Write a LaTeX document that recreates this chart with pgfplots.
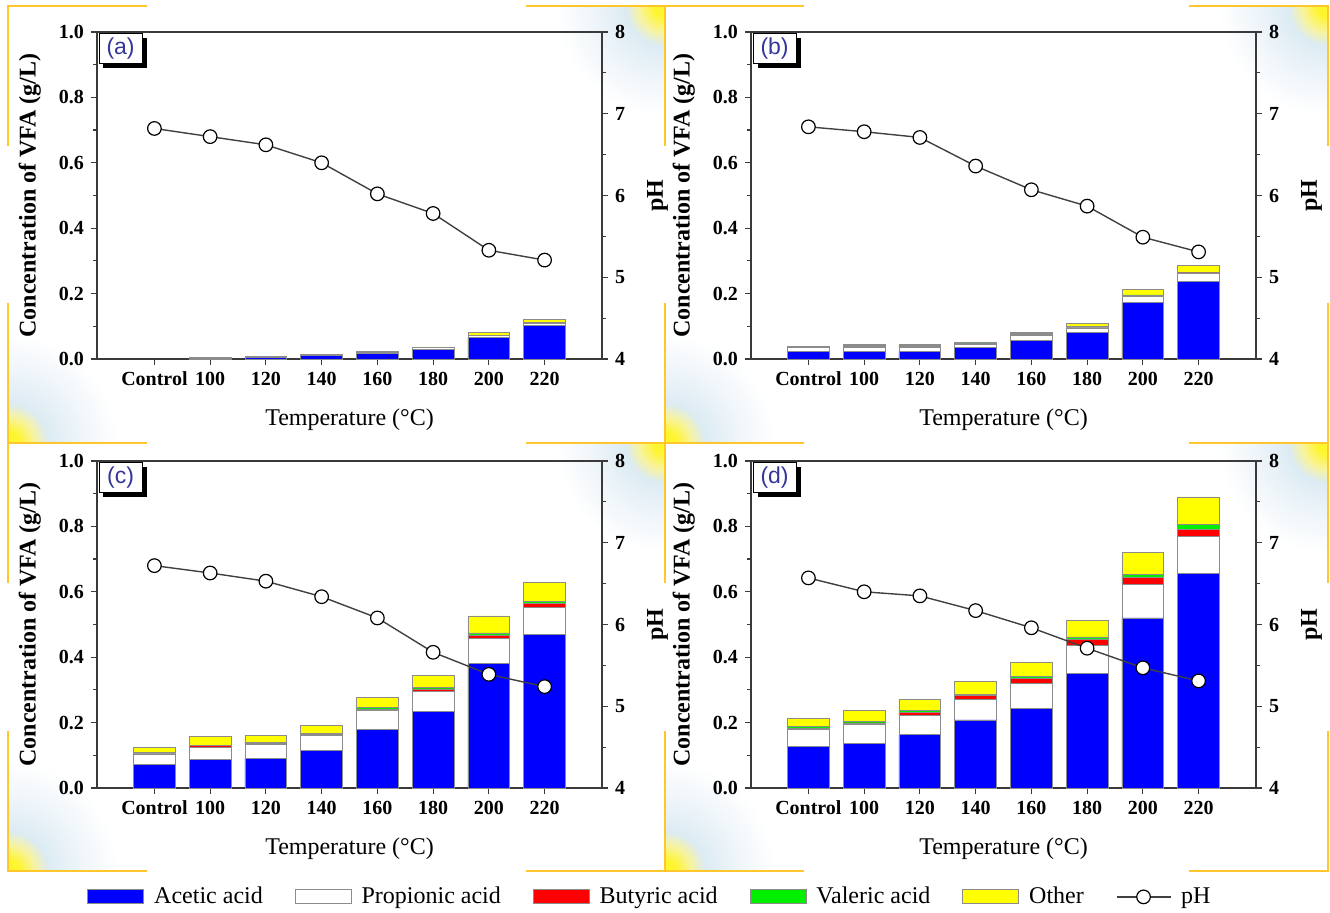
\documentclass[border=0pt]{standalone}
\usepackage{pgfplots}
\pgfplotsset{compat=1.18}
\usepackage{pgfplotstable}
\usepackage{fontspec}
\setmainfont{Liberation Serif}
\newfontfamily\labfont{Liberation Sans}
\usetikzlibrary{shadows}
\definecolor{gyel}{HTML}{FFF52E}
\definecolor{gyel2}{HTML}{F7F3A0}
\definecolor{gblue}{HTML}{DCEBF3}
\definecolor{gblue2}{HTML}{F0F6FA}
\definecolor{framey}{HTML}{FFC72C}
\definecolor{labblue}{HTML}{36369A}
\definecolor{axgray}{HTML}{3A3A3A}
\definecolor{bargray}{HTML}{8C8C8C}
\definecolor{vblue}{HTML}{0000FF}
\definecolor{vred}{HTML}{FF0000}
\definecolor{vgreen}{HTML}{00F000}
\definecolor{vyel}{HTML}{FFFF00}
\definecolor{phgray}{HTML}{404040}
\pgfdeclareradialshading{glow}{\pgfpoint{0bp}{0bp}}{color(0bp)=(gyel); color(2.5bp)=(gyel); color(6bp)=(gyel2); color(9bp)=(gblue); color(17bp)=(gblue2); color(25bp)=(white); color(50bp)=(white)}

\pgfplotstableread{
x ac pr bu va ot ph
0 0.000 0.000 0.000 0.000 0.000 6.82
1 0.003 0.001 0.000 0.000 0.000 6.72
2 0.006 0.001 0.000 0.000 0.000 6.62
3 0.010 0.002 0.000 0.000 0.001 6.40
4 0.018 0.003 0.000 0.000 0.002 6.02
5 0.030 0.004 0.000 0.000 0.002 5.78
6 0.066 0.006 0.001 0.000 0.007 5.33
7 0.102 0.006 0.002 0.001 0.010 5.21
}\tA
\pgfplotstableread{
x ac pr bu va ot ph
0 0.023 0.013 0.000 0.000 0.001 6.84
1 0.023 0.013 0.003 0.003 0.003 6.78
2 0.023 0.013 0.003 0.003 0.003 6.71
3 0.034 0.011 0.002 0.002 0.002 6.36
4 0.056 0.016 0.003 0.003 0.003 6.07
5 0.080 0.015 0.002 0.002 0.010 5.87
6 0.172 0.020 0.002 0.002 0.018 5.49
7 0.237 0.024 0.002 0.003 0.020 5.31
}\tB
\pgfplotstableread{
x ac pr bu va ot ph
0 0.071 0.033 0.002 0.002 0.017 6.72
1 0.087 0.036 0.006 0.002 0.026 6.63
2 0.091 0.042 0.004 0.003 0.021 6.53
3 0.116 0.044 0.004 0.003 0.025 6.34
4 0.178 0.058 0.005 0.004 0.032 6.08
5 0.235 0.060 0.008 0.004 0.037 5.66
6 0.380 0.076 0.010 0.008 0.052 5.39
7 0.470 0.083 0.011 0.006 0.059 5.24
}\tC
\pgfplotstableread{
x ac pr bu va ot ph
0 0.127 0.051 0.004 0.005 0.026 6.57
1 0.135 0.058 0.006 0.004 0.033 6.40
2 0.163 0.060 0.007 0.006 0.036 6.35
3 0.208 0.064 0.010 0.005 0.039 6.17
4 0.244 0.076 0.014 0.007 0.044 5.96
5 0.351 0.086 0.017 0.008 0.051 5.71
6 0.520 0.102 0.022 0.010 0.067 5.47
7 0.657 0.112 0.023 0.014 0.084 5.31
}\tD

\tikzset{
  panellab/.style={anchor=north west, draw=black, line width=0.5pt, fill=white,
    minimum width=21.5pt, minimum height=15pt, inner sep=0pt,
    font=\labfont\fontsize{11.5}{13}\selectfont, text=labblue,
    general shadow={fill=black, shadow xshift=2.2pt, shadow yshift=-2.2pt},
    xshift=0.8pt, yshift=-0.6pt},
}
\pgfplotsset{
  common/.style={
    scale only axis, width=252.5pt, height=163.5pt,
    xmin=-1.03, xmax=8.03,
    tick align=outside, major tick length=3pt, minor tick length=2pt,
    axis line style={draw=axgray, line width=0.6pt},
    every tick/.style={draw=axgray, line width=0.6pt},
    /pgf/number format/assume math mode=true,
    tick label style={font=\fontsize{10}{12}\selectfont\bfseries},
    clip=false,
  },
  vfa/.style={
    common, ymin=0, ymax=1,
    ybar stacked, bar width=0.75,
    xtick={0,1,2,3,4,5,6,7},
    xticklabels={Control,100,120,140,160,180,200,220},
    ytick={0,0.2,0.4,0.6,0.8,1.0}, minor y tick num=1,
    tick pos=left,
    yticklabel style={/pgf/number format/.cd, fixed, fixed zerofill, precision=1},
    ylabel={Concentration of VFA (g/L)},
    ylabel style={font=\fontsize{12}{14}\selectfont\bfseries, at={(axis description cs:-0.133,0.5)}, anchor=center},
    xlabel={Temperature (°C)},
    xlabel style={font=\fontsize{12}{14}\selectfont, at={(axis description cs:0.5,-0.187)}, anchor=center},
  },
  phax/.style={
    common, ymin=4, ymax=8,
    axis y line*=right, axis x line=none,
    ytick={4,5,6,7,8}, minor y tick num=1,
    ylabel={pH},
    ylabel style={font=\fontsize{12}{14}\selectfont\bfseries, at={(axis description cs:1.11,0.5)}, anchor=center},
  },
  boxleg/.style={legend image code/.code={\draw[##1] (0pt,-3.5pt) rectangle (28pt,3.5pt);}},
  phleg/.style={legend image code/.code={%
      \draw[color=phgray, line width=0.7pt] (0pt,0pt) -- (27pt,0pt);
      \draw[black, fill=white, line width=0.6pt] (13.5pt,0pt) circle (3.4pt);}},
  acet/.style={fill=vblue, draw=bargray, line width=0.4pt, boxleg},
  prop/.style={fill=white, draw=bargray, line width=0.4pt, boxleg},
  buty/.style={fill=vred, draw=bargray, line width=0.4pt, boxleg},
  vale/.style={fill=vgreen, draw=bargray, line width=0.4pt, boxleg},
  othr/.style={fill=vyel, draw=bargray, line width=0.4pt, boxleg},
  phline/.style={color=phgray, line width=0.7pt, mark=*, mark size=3.4pt,
    mark options={fill=white, draw=black, line width=0.6pt}},
}

\newcommand\glowTR[2]{\begin{scope}\clip (#1-130,#2) rectangle (#1,#2+130);
  \shade[shading=glow] (#1,#2) circle (55pt);\end{scope}}
\newcommand\glowBL[2]{\begin{scope}\clip (#1,#2-130) rectangle (#1+130,#2);
  \shade[shading=glow] (#1,#2) circle (55pt);\end{scope}}
\newcommand\framecorners[4]{%
  \draw[framey, line width=1pt] (#1,#2+140) -- (#1,#2) -- (#1+139,#2);
  \draw[framey, line width=1pt] (#3-139,#2) -- (#3,#2) -- (#3,#2+140);
  \draw[framey, line width=1pt] (#1,#4-140) -- (#1,#4) -- (#1+139,#4);
  \draw[framey, line width=1pt] (#3-139,#4) -- (#3,#4) -- (#3,#4-140);}

\newcommand\bars[1]{%
  \addplot[acet] table[x=x,y=ac]{#1};
  \addplot[prop] table[x=x,y=pr]{#1};
  \addplot[buty] table[x=x,y=bu]{#1};
  \addplot[vale] table[x=x,y=va]{#1};
  \addplot[othr] table[x=x,y=ot]{#1};}

\begin{document}
\begin{tikzpicture}
\path[use as bounding box] (0pt,0pt) rectangle (665pt,-456.5pt);
\begin{scope}[x=0.5pt,y=-0.5pt]
  \glowTR{665}{6}\glowBL{8}{443}
  \glowTR{1328}{6}\glowBL{665}{443}
  \glowTR{665}{443}\glowBL{8}{871}
  \glowTR{1328}{443}\glowBL{665}{871}
  \framecorners{8}{6}{665}{443}
  \framecorners{665}{6}{1328}{443}
  \framecorners{8}{443}{665}{871}
  \framecorners{665}{443}{1328}{871}
\end{scope}

% (a)
\begin{axis}[vfa, at={(48.5pt,-179.5pt)}, anchor=south west]
\bars{\tA}
\end{axis}
\begin{axis}[phax, at={(48.5pt,-179.5pt)}, anchor=south west]
\addplot[phline] table[x=x,y=ph]{\tA};
\node[panellab] at (rel axis cs:0,1) {(a)};
\end{axis}

% (b)
\begin{axis}[vfa, at={(375.5pt,-179.5pt)}, anchor=south west]
\bars{\tB}
\end{axis}
\begin{axis}[phax, at={(375.5pt,-179.5pt)}, anchor=south west]
\addplot[phline] table[x=x,y=ph]{\tB};
\node[panellab] at (rel axis cs:0,1) {(b)};
\end{axis}

% (c)
\begin{axis}[vfa, at={(48.5pt,-394pt)}, anchor=south west]
\bars{\tC}
\end{axis}
\begin{axis}[phax, at={(48.5pt,-394pt)}, anchor=south west]
\addplot[phline] table[x=x,y=ph]{\tC};
\node[panellab] at (rel axis cs:0,1) {(c)};
\end{axis}

% (d)
\begin{axis}[vfa, at={(375.5pt,-394pt)}, anchor=south west,
  legend columns=6,
  legend style={at={(axis description cs:-0.198,-0.333)}, anchor=center,
    draw=none, fill=none, font=\fontsize{12}{14}\selectfont,
    nodes={inner sep=2pt},
    /tikz/every odd column/.append style={column sep=3pt},
    /tikz/every even column/.append style={column sep=14pt}}]
\bars{\tD}
\addlegendimage{phleg}
\legend{Acetic acid, Propionic acid, Butyric acid, Valeric acid, Other, pH}
\end{axis}
\begin{axis}[phax, at={(375.5pt,-394pt)}, anchor=south west]
\addplot[phline] table[x=x,y=ph]{\tD};
\node[panellab] at (rel axis cs:0,1) {(d)};
\end{axis}
\end{tikzpicture}
\end{document}
